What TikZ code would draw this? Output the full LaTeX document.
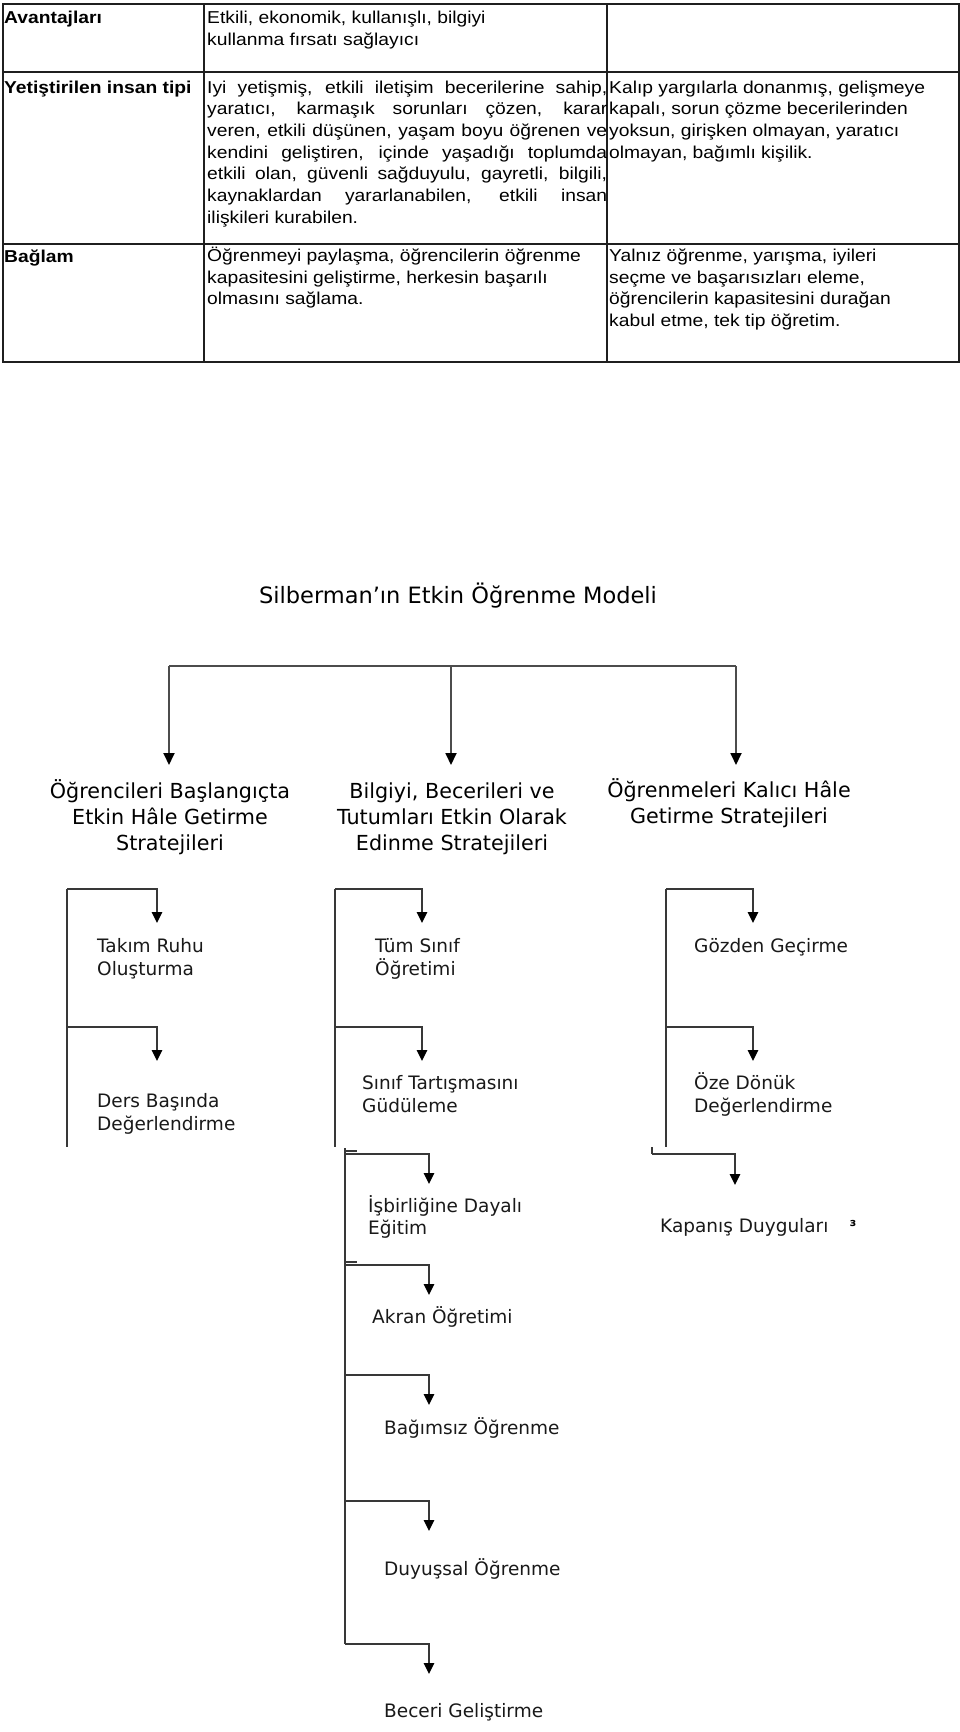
\documentclass[tikz,border=0pt]{standalone}
\usepackage{fontspec}
\usetikzlibrary{arrows.meta}
\newfontfamily\tabfont[FakeStretch=1.12]{Liberation Sans}
\newfontfamily\dgfont{DejaVu Sans}
\begin{document}
\begin{tikzpicture}[x=1pt,y=-1pt,
  grid/.style={draw=black!88,line width=1.2pt},
  cell/.style={inner sep=0pt,anchor=base west,align=left,font=\tabfont\fontsize{17.2}{21.7}\selectfont},
  cellb/.style={inner sep=0pt,anchor=base west,font=\tabfont\bfseries\fontsize{17.2}{21.7}\selectfont},
  lbl/.style={inner sep=0pt,anchor=base west,align=left,text=black!90,font=\dgfont\fontsize{18.5}{23}\selectfont},
  toplbl/.style={inner sep=0pt,anchor=base,align=center,font=\dgfont\fontsize{20.7}{26}\selectfont},
  ttl/.style={inner sep=0pt,anchor=base,font=\dgfont\fontsize{22.5}{27}\selectfont},
  conn1/.style={draw=black!70,line width=1.8pt},
  conn/.style={draw=black!78,line width=1.4pt},
  arr1/.style={conn1,-{Triangle[length=12pt,width=11pt,color=black]}},
  arr/.style={conn,-{Triangle[length=11pt,width=10.5pt,color=black]}}
]
\useasboundingbox[fill=white] (0,0) rectangle (960,1732);

% ---------- table ----------
\draw[grid] (3,4) rectangle (959,362);
\draw[grid] (204,4) -- (204,362);
\draw[grid] (607,4) -- (607,362);
\draw[grid] (3,72) -- (959,72);
\draw[grid] (3,244) -- (959,244);

% (multi-line nodes are placed by the baseline of their last line)
\node[cellb] (h1) at (4,23.3) {Avantajları};
\node[cell] (c12) at (207,45) {Etkili, ekonomik, kullanışlı, bilgiyi\\kullanma fırsatı sağlayıcı};

\node[cellb] (h2) at (4,93) {Yetiştirilen insan tipi};
\node[cell] (c22) at (207,223.2) {%
\makebox[400pt][s]{Iyi yetişmiş, etkili iletişim becerilerine sahip,}\\
\makebox[400pt][s]{yaratıcı, karmaşık sorunları çözen, karar}\\
\makebox[400pt][s]{veren, etkili düşünen, yaşam boyu öğrenen ve}\\
\makebox[400pt][s]{kendini geliştiren, içinde yaşadığı toplumda}\\
\makebox[400pt][s]{etkili olan, güvenli sağduyulu, gayretli, bilgili,}\\
\makebox[400pt][s]{kaynaklardan yararlanabilen, etkili insan}\\
ilişkileri kurabilen.};
\node[cell] (c23) at (609,158.1) {Kalıp yargılarla donanmış, gelişmeye\\kapalı, sorun çözme becerilerinden\\yoksun, girişken olmayan, yaratıcı\\olmayan, bağımlı kişilik.};

\node[cellb] (h3) at (4,262.5) {Bağlam};
\node[cell] (c32) at (207,304.9) {Öğrenmeyi paylaşma, öğrencilerin öğrenme\\kapasitesini geliştirme, herkesin başarılı\\olmasını sağlama.};
\node[cell] (c33) at (609,326.6) {Yalnız öğrenme, yarışma, iyileri\\seçme ve başarısızları eleme,\\öğrencilerin kapasitesini durağan\\kabul etme, tek tip öğretim.};

% ---------- diagram ----------
\node[ttl] (T) at (458,603) {Silberman’ın Etkin Öğrenme Modeli};

\coordinate (tL) at (169,666);
\coordinate (tM) at (451,666);
\coordinate (tR) at (736,666);
\coordinate (aL) at (169,765);
\coordinate (aM) at (451,765);
\coordinate (aR) at (736,765);
\draw[conn1] (tL) -- (tR);
\draw[arr1] (tL) -- (aL);
\draw[arr1] (tM) -- (aM);
\draw[arr1] (tR) -- (aR);

\node[toplbl] (A) at (170,850) {Öğrencileri Başlangıçta\\Etkin Hâle Getirme\\Stratejileri};
\node[toplbl] (B) at (452,850) {Bilgiyi, Becerileri ve\\Tutumları Etkin Olarak\\Edinme Stratejileri};
\node[toplbl] (C) at (729,823) {Öğrenmeleri Kalıcı Hâle\\Getirme Stratejileri};

% left subtree
\coordinate (s1t) at (67,889);
\coordinate (s1m) at (67,1027);
\coordinate (s1b) at (67,1147);
\coordinate (s1a) at (157,923);
\coordinate (s1c) at (157,1061);
\draw[conn] (s1t) -- (s1b);
\draw[arr] (s1t) -| (s1a);
\draw[arr] (s1m) -| (s1c);
\node[lbl] (n11) at (97,975) {Takım Ruhu\\Oluşturma};
\node[lbl] (n12) at (97,1130) {Ders Başında\\Değerlendirme};

% middle subtree
\coordinate (s2t) at (335,889);
\coordinate (s2m) at (335,1027);
\coordinate (s2b) at (335,1147);
\coordinate (s2a) at (422,923);
\coordinate (s2c) at (422,1061);
\draw[conn] (s2t) -- (s2b);
\draw[arr] (s2t) -| (s2a);
\draw[arr] (s2m) -| (s2c);
\node[lbl] (n21) at (375,975) {Tüm Sınıf\\Öğretimi};
\node[lbl] (n22) at (362,1112) {Sınıf Tartışmasını\\Güdüleme};

% right subtree
\coordinate (s3t) at (666,889);
\coordinate (s3m) at (666,1027);
\coordinate (s3b) at (666,1147);
\coordinate (s3a) at (753,923);
\coordinate (s3c) at (753,1061);
\draw[conn] (s3t) -- (s3b);
\draw[arr] (s3t) -| (s3a);
\draw[arr] (s3m) -| (s3c);
\node[lbl] (n31) at (694,952) {Gözden Geçirme};
\node[lbl] (n32) at (694,1112) {Öze Dönük\\Değerlendirme};

% lower middle subtree
\coordinate (s4t) at (345,1148);
\coordinate (s4a) at (345,1154);
\coordinate (s4b) at (345,1265);
\coordinate (s4c) at (345,1375);
\coordinate (s4d) at (345,1501);
\coordinate (s4e) at (345,1644);
\coordinate (k1s) at (345,1151);
\coordinate (k1e) at (357,1151);
\coordinate (k2s) at (345,1262);
\coordinate (k2e) at (357,1262);
\coordinate (e1) at (429,1184);
\coordinate (e2) at (429,1295);
\coordinate (e3) at (429,1405);
\coordinate (e4) at (429,1531);
\coordinate (e5) at (429,1674);
\draw[conn] (s4t) -- (s4e);
\draw[conn] (k1s) -- (k1e);
\draw[conn] (k2s) -- (k2e);
\draw[arr] (s4a) -| (e1);
\draw[arr] (s4b) -| (e2);
\draw[arr] (s4c) -| (e3);
\draw[arr] (s4d) -| (e4);
\draw[arr] (s4e) -| (e5);
\node[lbl,font=\dgfont\fontsize{18.5}{22}\selectfont] (n23) at (368,1234) {İşbirliğine Dayalı\\Eğitim};
\node[lbl] (n24) at (372,1323) {Akran Öğretimi};
\node[lbl] (n25) at (384,1434) {Bağımsız Öğrenme};
\node[lbl] (n26) at (384,1575) {Duyuşsal Öğrenme};
\node[lbl] (n27) at (384,1717) {Beceri Geliştirme};

% lower right
\coordinate (s5t) at (652,1147);
\coordinate (s5a) at (652,1154);
\coordinate (e6) at (735,1185);
\draw[conn] (s5t) -- (s5a);
\draw[arr] (s5a) -| (e6);
\node[lbl] (n33) at (660,1232) {Kapanış Duyguları};
\node[inner sep=0pt,anchor=base,font=\dgfont\bfseries\fontsize{11}{13}\selectfont] (stray) at (853,1226) {з};
\end{tikzpicture}
\end{document}
